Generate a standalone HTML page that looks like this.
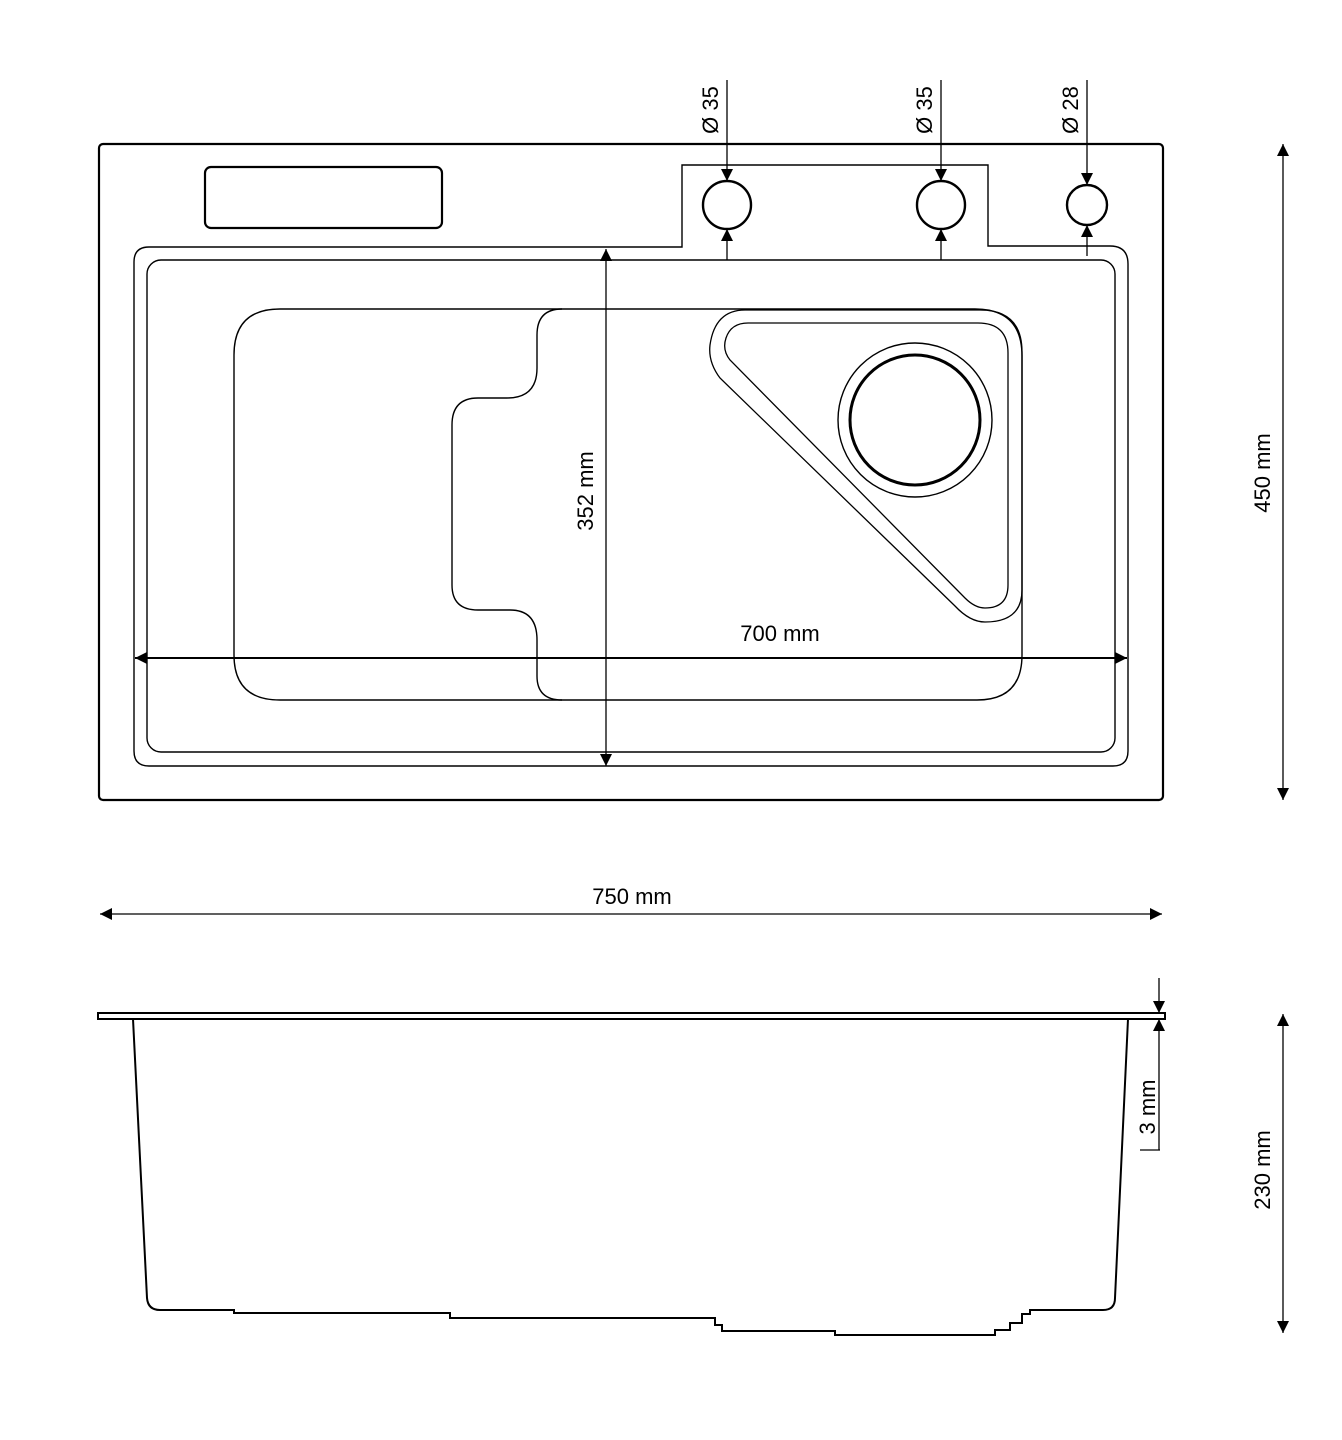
<!DOCTYPE html>
<html><head><style>html,body{margin:0;padding:0;background:#fff;overflow:hidden}svg{display:block}text{font-family:"Liberation Sans",sans-serif;fill:#000}</style></head>
<body>
<svg width="1342" height="1440" viewBox="0 0 1342 1440" xmlns="http://www.w3.org/2000/svg">
<defs>
<marker id="a" viewBox="0 0 10 10" refX="10" refY="5" markerWidth="18" markerHeight="12" markerUnits="userSpaceOnUse" orient="auto-start-reverse"><path d="M0,0L10,5L0,10z" fill="#000"/></marker>
</defs>
<g fill="none" stroke="#000">
<rect x="99" y="144" width="1064" height="656" rx="4" stroke-width="2.2"/>
<rect x="205" y="167" width="237" height="61" rx="6" stroke-width="2.2"/>
<path d="M149,247 H682 V165 H988 V246 H1110 Q1128,246 1128,264 V751 Q1128,766 1113,766 H149 Q134,766 134,751 V262 Q134,247 149,247Z" stroke-width="1.4"/>
<rect x="147" y="260" width="968" height="492" rx="14" stroke-width="1.4"/>
<path d="M280,309 H975 Q1022,309 1022,356 V655 Q1022,700 977,700 H280 Q234,700 234,655 V355 Q234,309 280,309Z" stroke-width="1.4"/>
<path d="M562,309 Q537,309 537,335 V368 Q537,398 507,398 H478 Q452,398 452,425 V585 Q452,610 478,610 H510 Q537,610 537,640 V676 Q537,700 562,700" stroke-width="1.4"/>
<path d="M745,310 H980 Q1022,310 1022,352 V590 Q1022,622 985,622 Q970,622 955,606 L720,378 Q708,362 710,345 Q715,310 745,310Z" stroke-width="1.3"/>
<path d="M748,323 H978 Q1008,323 1008,353 V585 Q1008,608 985,608 Q975,608 965,598 L730,360 Q722,350 726,338 Q731,323 748,323Z" stroke-width="1.3"/>
<circle cx="915" cy="420" r="77" stroke-width="1.4"/>
<circle cx="915" cy="420" r="65" stroke-width="3"/>
<circle cx="727" cy="205" r="24" stroke-width="2.4"/>
<circle cx="941" cy="205" r="24" stroke-width="2.4"/>
<circle cx="1087" cy="205" r="20" stroke-width="2.4"/>
</g>
<g stroke="#000" stroke-width="1.3" fill="none">
<line x1="727" y1="80" x2="727" y2="181" marker-end="url(#a)"/>
<line x1="727" y1="260" x2="727" y2="229" marker-end="url(#a)"/>
<line x1="941" y1="80" x2="941" y2="181" marker-end="url(#a)"/>
<line x1="941" y1="260" x2="941" y2="229" marker-end="url(#a)"/>
<line x1="1087" y1="80" x2="1087" y2="185" marker-end="url(#a)"/>
<line x1="1087" y1="256" x2="1087" y2="225" marker-end="url(#a)"/>
<line x1="606" y1="249" x2="606" y2="766" marker-start="url(#a)" marker-end="url(#a)"/>
<line x1="135" y1="658" x2="1127" y2="658" stroke-width="2" marker-start="url(#a)" marker-end="url(#a)"/>
<line x1="1283" y1="144" x2="1283" y2="800" marker-start="url(#a)" marker-end="url(#a)"/>
<line x1="100" y1="914" x2="1162" y2="914" marker-start="url(#a)" marker-end="url(#a)"/>
<line x1="1283" y1="1014" x2="1283" y2="1333" marker-start="url(#a)" marker-end="url(#a)"/>
<line x1="1159" y1="978" x2="1159" y2="1013" marker-end="url(#a)"/>
<line x1="1159" y1="1150" x2="1159" y2="1019" marker-end="url(#a)"/>
<line x1="1140" y1="1150" x2="1160" y2="1150"/>
</g>
<g fill="none" stroke="#000">
<rect x="98" y="1013" width="1067" height="6" stroke-width="2"/>
<path d="M133,1019 L147,1298 Q148,1310 160,1310 H234 V1313 H450 V1318 H715 V1325 H722 V1331 H835 V1335 H995 V1330 H1010 V1323 H1022 V1314 H1030 V1310 H1103 Q1115,1310 1115,1298 L1128,1019" stroke-width="2"/>
</g>
<text x="718" y="110" font-size="22" transform="rotate(-90 718 110)" text-anchor="middle">Ø 35</text>
<text x="932" y="110" font-size="22" transform="rotate(-90 932 110)" text-anchor="middle">Ø 35</text>
<text x="1078" y="110" font-size="22" transform="rotate(-90 1078 110)" text-anchor="middle">Ø 28</text>
<text x="593" y="491" font-size="22" transform="rotate(-90 593 491)" text-anchor="middle">352 mm</text>
<text x="780" y="641" font-size="22" text-anchor="middle">700 mm</text>
<text x="1270" y="473" font-size="22" transform="rotate(-90 1270 473)" text-anchor="middle">450 mm</text>
<text x="632" y="904" font-size="22" text-anchor="middle">750 mm</text>
<text x="1155" y="1107" font-size="22" transform="rotate(-90 1155 1107)" text-anchor="middle">3 mm</text>
<text x="1270" y="1170" font-size="22" transform="rotate(-90 1270 1170)" text-anchor="middle">230 mm</text>
</svg>
</body></html>
